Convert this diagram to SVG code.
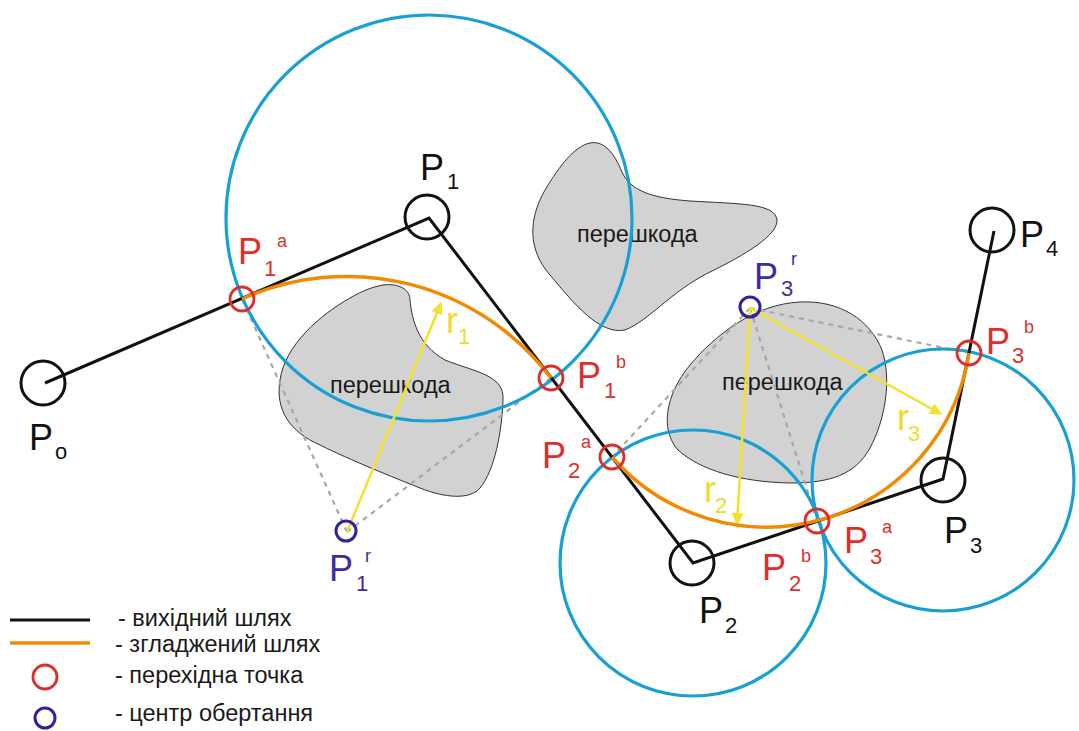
<svg xmlns="http://www.w3.org/2000/svg" width="1079" height="731" viewBox="0 0 1079 731">
<defs>
<style>
.obst{fill:#d2d2d2;stroke:#333;stroke-width:1}
.otxt{font-family:"Liberation Sans",Arial,sans-serif;font-size:23.5px;fill:#1a1a1a}
.dash{stroke:#a8a8a8;stroke-width:2.2;stroke-dasharray:5 5;fill:none}
.blue{fill:none;stroke:#17a0d4;stroke-width:3.2}
.path{fill:none;stroke:#111;stroke-width:3;stroke-linejoin:miter}
.orange{fill:none;stroke:#f28a00;stroke-width:3.5}
.node{fill:none;stroke:#111;stroke-width:3}
.tr{fill:none;stroke:#dc2f2a;stroke-width:2.8}
.rc{fill:none;stroke:#33229a;stroke-width:3}
.ya{stroke:#f3e22c;stroke-width:2.5;fill:none}
.lbl{font-family:"Liberation Sans",Arial,sans-serif}
.big{font-size:36px}
.sub{font-size:22px}
.sup{font-size:18px}
.k{fill:#111}
.r{fill:#dc2f2a}
.v{fill:#3d2d9e}
.y{fill:#efdc2a}
.leg{font-family:"Liberation Sans",Arial,sans-serif;font-size:23.5px;fill:#1a1a1a}
</style>
<marker id="ah" viewBox="0 0 10 10" refX="9" refY="5" markerWidth="14" markerHeight="12" markerUnits="userSpaceOnUse" orient="auto">
<path d="M0,0 L10,5 L0,10 z" fill="#f3e22c"/>
</marker>
</defs>
<rect width="1079" height="731" fill="#fff"/>

<g id="obstacles">
<g id="obstacle1">
<path class="obst" d="M383,285 C400,283 410,290 410,300 C412,320 418,345 445,360 C475,372 505,375 503,400 C502,430 495,470 480,488 C470,500 445,498 420,488 C395,478 350,460 320,445 C290,432 275,410 280,380 C285,345 320,315 350,298 C362,291 372,287 383,285 Z"/>
<text class="otxt" x="330" y="393">перешкода</text>
</g>
<g id="obstacle2">
<path class="obst" d="M590,143 C605,140 615,155 622,172 C630,190 650,198 690,201 C740,204 775,203 777,220 C778,235 745,255 710,272 C670,292 650,320 625,330 C600,335 575,305 550,275 C528,250 528,220 545,190 C560,165 575,146 590,143 Z"/>
<text class="otxt" x="577" y="242">перешкода</text>
</g>
<g id="obstacle3">
<path class="obst" d="M800,302 C840,300 870,320 882,350 C892,380 885,420 870,448 C855,475 830,483 790,483 C740,482 700,470 678,450 C660,430 665,395 690,365 C715,335 755,304 800,302 Z"/>
<text class="otxt" x="722" y="390">перешкода</text>
</g>
</g>

<g id="connectors">
<g id="dashed">
<line class="dash" x1="347" y1="532" x2="242" y2="299"/>
<line class="dash" x1="347" y1="532" x2="551" y2="378"/>
<line class="dash" x1="750" y1="308" x2="612" y2="457"/>
<line class="dash" x1="750" y1="308" x2="817" y2="521"/>
<line class="dash" x1="750" y1="308" x2="969" y2="353"/>
</g>
<g id="circles">
<circle class="blue" cx="429" cy="218" r="203"/>
<circle class="blue" cx="693" cy="563" r="133"/>
<circle class="blue" cx="943" cy="480" r="131"/>
</g>
<g id="radii">
<line class="ya" x1="347" y1="532" x2="441" y2="303" marker-end="url(#ah)"/>
<line class="ya" x1="750" y1="308" x2="737" y2="524" marker-end="url(#ah)"/>
<line class="ya" x1="750" y1="308" x2="941" y2="414" marker-end="url(#ah)"/>
</g>
<polyline id="source-path" class="path" points="45,383 429,218 693,563 943,479 994,231"/>
<path id="smooth1" class="orange" d="M242,299 A255.6,255.6 0 0 1 551,378"/>
<path id="smooth2" class="orange" d="M612,457 A205,205 0 0 0 969,353"/>
</g>

<g id="P0"><circle class="node" cx="43" cy="383" r="22"/><text class="lbl big k" x="29" y="450">P</text><text class="lbl sub k" x="55" y="459">o</text></g>
<g id="P1"><circle class="node" cx="427" cy="217" r="22"/><text class="lbl big k" x="420" y="180">P</text><text class="lbl sub k" x="447" y="189">1</text></g>
<g id="P2"><circle class="node" cx="692" cy="563" r="22"/><text class="lbl big k" x="699" y="623">P</text><text class="lbl sub k" x="725" y="633">2</text></g>
<g id="P3"><circle class="node" cx="943" cy="480" r="22"/><text class="lbl big k" x="944" y="543">P</text><text class="lbl sub k" x="970" y="553">3</text></g>
<g id="P4"><circle class="node" cx="992" cy="230" r="22"/><text class="lbl big k" x="1020" y="247">P</text><text class="lbl sub k" x="1046" y="256">4</text></g>

<g id="P1a"><circle class="tr" cx="242" cy="299" r="12"/><text class="lbl big r" x="238" y="264">P</text><text class="lbl sub r" x="264" y="276">1</text><text class="lbl sup r" x="277" y="247">a</text></g>
<g id="P1b"><circle class="tr" cx="551" cy="378" r="12"/><text class="lbl big r" x="577" y="388">P</text><text class="lbl sub r" x="604" y="398">1</text><text class="lbl sup r" x="616" y="368">b</text></g>
<g id="P2a"><circle class="tr" cx="612" cy="457" r="12"/><text class="lbl big r" x="542" y="468">P</text><text class="lbl sub r" x="568" y="478">2</text><text class="lbl sup r" x="581" y="448">a</text></g>
<g id="P2b"><circle class="tr" cx="817" cy="521" r="12"/><text class="lbl big r" x="762" y="580">P</text><text class="lbl sub r" x="789" y="591">2</text><text class="lbl sup r" x="801" y="562">b</text></g>
<g id="P3a"><text class="lbl big r" x="844" y="553">P</text><text class="lbl sub r" x="870" y="564">3</text><text class="lbl sup r" x="882" y="533">a</text></g>
<g id="P3b"><circle class="tr" cx="969" cy="353" r="12"/><text class="lbl big r" x="986" y="354">P</text><text class="lbl sub r" x="1012" y="363">3</text><text class="lbl sup r" x="1024" y="333">b</text></g>

<g id="P1r"><circle class="rc" cx="346" cy="531" r="10"/><text class="lbl big v" x="329" y="581">P</text><text class="lbl sub v" x="356" y="591">1</text><text class="lbl sup v" x="365" y="562">r</text></g>
<g id="P3r"><circle class="rc" cx="750" cy="307" r="10"/><text class="lbl big v" x="754" y="289">P</text><text class="lbl sub v" x="781" y="296">3</text><text class="lbl sup v" x="791" y="265">r</text></g>

<g id="r1"><text class="lbl big y" x="446" y="333">r</text><text class="lbl sub y" x="458" y="344">1</text></g>
<g id="r2"><text class="lbl big y" x="704" y="502">r</text><text class="lbl sub y" x="715" y="513">2</text></g>
<g id="r3"><text class="lbl big y" x="897" y="430">r</text><text class="lbl sub y" x="908" y="441">3</text></g>

<g id="legend">
<line x1="10" y1="620" x2="90" y2="620" stroke="#111" stroke-width="3"/>
<text class="leg" x="118" y="626">- вихідний шлях</text>
<line x1="10" y1="643" x2="90" y2="643" stroke="#f28a00" stroke-width="3.5"/>
<text class="leg" x="115" y="652">- згладжений шлях</text>
<circle class="tr" cx="45" cy="677" r="12"/>
<text class="leg" x="115" y="683">- перехідна точка</text>
<circle class="rc" cx="45" cy="718" r="10"/>
<text class="leg" x="115" y="721">- центр обертання</text>
</g>
</svg>
